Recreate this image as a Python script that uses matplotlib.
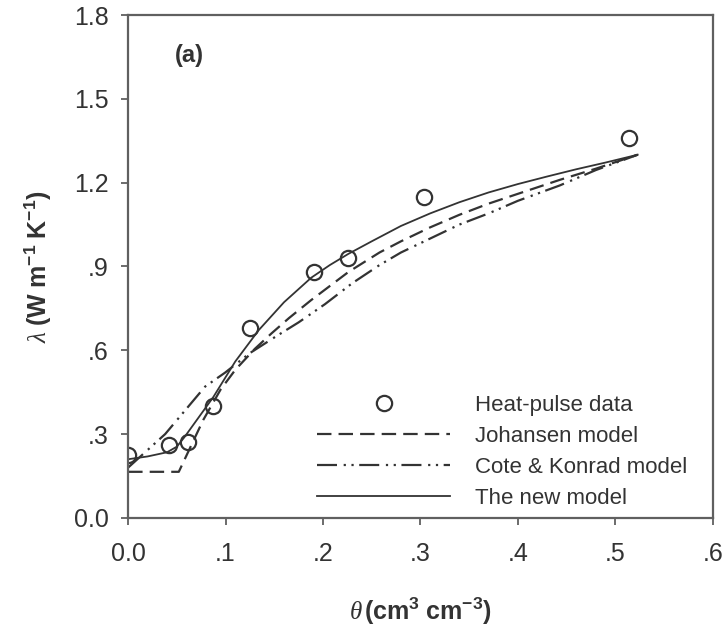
import matplotlib
matplotlib.use("Agg")
import matplotlib.pyplot as plt

plt.rcParams['font.family'] = ['Liberation Sans', 'DejaVu Sans']
plt.rcParams['mathtext.fontset'] = 'custom'
plt.rcParams['mathtext.rm'] = 'Liberation Sans'
plt.rcParams['mathtext.bf'] = 'Liberation Sans:bold'
plt.rcParams['mathtext.it'] = 'Liberation Serif:italic'

# heat-pulse measurements
theta_obs = [0.0, 0.042, 0.061, 0.087, 0.125, 0.191, 0.226, 0.304, 0.514]
lam_obs = [0.225, 0.26, 0.27, 0.40, 0.68, 0.88, 0.93, 1.15, 1.36]

# Johansen model
theta_joh = [0.0, 0.052, 0.077, 0.095, 0.11, 0.13, 0.147, 0.165, 0.188, 0.207,
             0.226, 0.258, 0.28, 0.31, 0.34, 0.37, 0.40, 0.443, 0.48, 0.523]
lam_joh = [0.165, 0.165, 0.35, 0.46, 0.53, 0.605, 0.66, 0.715, 0.78, 0.83,
           0.88, 0.95, 0.99, 1.04, 1.085, 1.125, 1.16, 1.21, 1.25, 1.30]

# Cote & Konrad model
theta_ck = [0.0, 0.038, 0.079, 0.0995, 0.125, 0.151, 0.175, 0.202, 0.23, 0.258,
            0.28, 0.31, 0.34, 0.37, 0.40, 0.443, 0.48, 0.523]
lam_ck = [0.18, 0.30, 0.47, 0.52, 0.59, 0.648, 0.70, 0.765, 0.84, 0.905,
          0.95, 1.00, 1.05, 1.09, 1.135, 1.19, 1.245, 1.30]

# the new model
theta_new = [0.0, 0.02, 0.04, 0.05, 0.058, 0.0875, 0.11, 0.134, 0.16, 0.188, 0.207,
             0.226, 0.25, 0.28, 0.31, 0.34, 0.37, 0.40, 0.43, 0.46, 0.49, 0.523]
lam_new = [0.21, 0.22, 0.235, 0.255, 0.29, 0.433, 0.56, 0.672, 0.772, 0.86, 0.905,
           0.945, 0.99, 1.045, 1.09, 1.13, 1.165, 1.195, 1.222, 1.248, 1.272, 1.30]

xticks = [0.0, 0.1, 0.2, 0.3, 0.4, 0.5, 0.6]
xticklabels = ['0.0', '.1', '.2', '.3', '.4', '.5', '.6']
yticks = [0.0, 0.3, 0.6, 0.9, 1.2, 1.5, 1.8]
yticklabels = ['0.0', '.3', '.6', '.9', '1.2', '1.5', '1.8']

line_c = '#333333'
fig = plt.figure(figsize=(7.28, 6.27), dpi=100)
ax = fig.add_axes([0.176, 0.174, 0.803, 0.802])

ax.plot(theta_obs, lam_obs, 'o', ms=11, mfc='none', mec=line_c, mew=1.6,
        label='Heat-pulse data')
ax.plot(theta_joh, lam_joh, color=line_c, lw=1.6, dashes=(6.5, 3.2),
        label='Johansen model')
ax.plot(theta_ck, lam_ck, color=line_c, lw=1.6, dashes=(9, 3, 1, 2.5, 1, 2.5),
        label='Cote & Konrad model')
ax.plot(theta_new, lam_new, color=line_c, lw=1.3, label='The new model')

ax.set_xlim(0, 0.6)
ax.set_ylim(0, 1.8)
ax.set_xticks(xticks)
ax.set_xticklabels(xticklabels)
ax.set_yticks(yticks)
ax.set_yticklabels(yticklabels)
ax.tick_params(direction='out', length=5, width=1.3, color='#606060',
               labelsize=18, labelcolor='#333333')
ax.tick_params(axis='x', pad=12)
ax.tick_params(axis='y', pad=9)
for s in ax.spines.values():
    s.set_color('#606060')
    s.set_linewidth(1.6)

ax.set_xlabel(r'$\mathit{\theta}\,\mathbf{(cm^3\ cm^{-3})}$', fontsize=18,
              color='#333333', labelpad=22)
ax.set_ylabel(r'$\mathit{\lambda}\ \mathbf{(W\ m^{-1}\ K^{-1})}$', fontsize=18,
              color='#333333', labelpad=14)

ax.text(0.08, 0.92, '(a)', transform=ax.transAxes, fontsize=17,
        fontweight='bold', color='#333333', va='center', ha='left')

ax.legend(loc='lower left', bbox_to_anchor=(0.323, 0.018), frameon=False,
          fontsize=16, handlelength=6, handletextpad=1.1, labelspacing=0.45,
          borderpad=0, borderaxespad=0, labelcolor='#333333')

fig.savefig('out.png', dpi=100)
